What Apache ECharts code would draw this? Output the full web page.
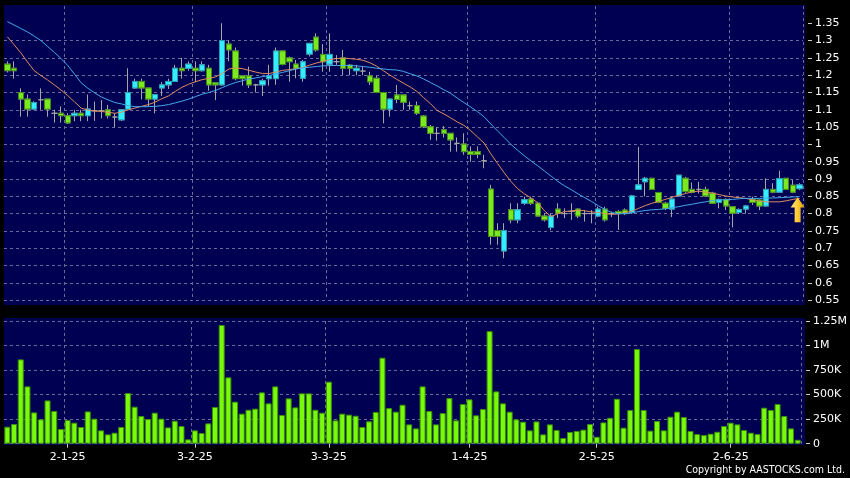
<!DOCTYPE html>
<html><head><meta charset="utf-8">
<script src="https://cdn.jsdelivr.net/npm/echarts@6/dist/echarts.min.js"></script>
<style>html,body{margin:0;padding:0;background:#000;}#c{width:850px;height:478px;}</style>
</head><body><div id="c"></div>
<script>
const dates = [
'17-12-24','18-12-24','19-12-24','20-12-24','23-12-24','24-12-24','27-12-24','30-12-24','31-12-24',
'2-1-25','3-1-25','6-1-25','7-1-25','8-1-25','9-1-25','10-1-25','13-1-25','14-1-25','15-1-25','16-1-25','17-1-25','20-1-25','21-1-25','22-1-25','23-1-25','24-1-25','27-1-25','28-1-25',
'3-2-25','4-2-25','5-2-25','6-2-25','7-2-25','10-2-25','11-2-25','12-2-25','13-2-25','14-2-25','17-2-25','18-2-25','19-2-25','20-2-25','21-2-25','24-2-25','25-2-25','26-2-25','27-2-25','28-2-25',
'3-3-25','4-3-25','5-3-25','6-3-25','7-3-25','10-3-25','11-3-25','12-3-25','13-3-25','14-3-25','17-3-25','18-3-25','19-3-25','20-3-25','21-3-25','24-3-25','25-3-25','26-3-25','27-3-25','28-3-25','31-3-25',
'1-4-25','2-4-25','3-4-25','7-4-25','8-4-25','9-4-25','10-4-25','11-4-25','14-4-25','15-4-25','16-4-25','17-4-25','22-4-25','23-4-25','24-4-25','25-4-25','28-4-25','29-4-25','30-4-25',
'2-5-25','6-5-25','7-5-25','8-5-25','9-5-25','12-5-25','13-5-25','14-5-25','15-5-25','16-5-25','19-5-25','20-5-25','21-5-25','22-5-25','23-5-25','26-5-25','27-5-25','28-5-25','29-5-25','30-5-25',
'2-6-25','3-6-25','4-6-25','5-6-25','6-6-25','9-6-25','10-6-25','11-6-25','12-6-25','13-6-25','16-6-25'
];
const tickLabels = ['2-1-25','3-2-25','3-3-25','1-4-25','2-5-25','2-6-25'];
const priceTicks = [0.55,0.6,0.65,0.7,0.75,0.8,0.85,0.9,0.95,1,1.05,1.1,1.15,1.2,1.25,1.3,1.35];

const opens = [
1.232,1.220,1.150,1.131,1.102,1.129,1.131,1.090,1.090,1.083,
1.083,1.090,1.083,1.097,1.097,1.100,1.079,1.071,1.102,1.163,
1.182,1.163,1.131,1.163,1.172,1.182,1.220,1.220,1.220,1.213,
1.220,1.178,1.172,1.290,1.270,1.198,1.198,1.172,1.172,1.190,
1.190,1.270,1.250,1.232,1.191,1.261,1.310,1.260,1.232,1.239,
1.250,1.229,1.213,1.212,1.198,1.191,1.150,1.102,1.143,1.143,
1.112,1.112,1.082,1.051,1.032,1.042,1.032,1.003,1.001,0.979,
0.979,0.953,0.871,0.751,0.692,0.811,0.782,0.830,0.842,0.830,
0.793,0.760,0.813,0.800,0.806,0.813,0.800,0.800,0.793,0.813,
0.800,0.806,0.810,0.803,0.870,0.892,0.902,0.861,0.830,0.813,
0.851,0.902,0.870,0.870,0.870,0.859,0.832,0.841,0.820,0.803,
0.813,0.841,0.839,0.822,0.870,0.862,0.902,0.882,0.872];
const closes = [
1.213,1.213,1.131,1.102,1.121,1.129,1.102,1.090,1.083,1.062,
1.090,1.083,1.102,1.097,1.097,1.083,1.079,1.100,1.150,1.182,
1.163,1.131,1.144,1.172,1.182,1.220,1.213,1.232,1.213,1.230,
1.172,1.172,1.300,1.273,1.190,1.190,1.172,1.172,1.184,1.198,
1.270,1.231,1.239,1.220,1.239,1.292,1.273,1.239,1.260,1.239,
1.220,1.220,1.220,1.212,1.181,1.150,1.102,1.131,1.130,1.122,
1.112,1.090,1.051,1.032,1.032,1.032,1.013,1.003,0.979,0.971,
0.971,0.953,0.734,0.734,0.751,0.782,0.811,0.840,0.830,0.793,
0.782,0.793,0.801,0.800,0.806,0.793,0.800,0.800,0.813,0.782,
0.800,0.800,0.800,0.851,0.883,0.902,0.870,0.832,0.815,0.842,
0.911,0.864,0.861,0.870,0.851,0.830,0.841,0.822,0.801,0.812,
0.822,0.832,0.822,0.870,0.862,0.901,0.870,0.862,0.883];
const lows = [
1.208,1.190,1.080,1.080,1.100,1.100,1.080,1.063,1.063,1.060,
1.067,1.067,1.067,1.068,1.075,1.075,1.050,1.068,1.100,1.160,
1.130,1.110,1.090,1.140,1.160,1.180,1.190,1.213,1.180,1.210,
1.155,1.128,1.170,1.240,1.185,1.170,1.163,1.150,1.140,1.170,
1.172,1.228,1.181,1.191,1.181,1.254,1.268,1.210,1.210,1.230,
1.200,1.200,1.200,1.200,1.172,1.148,1.061,1.080,1.119,1.100,
1.100,1.085,1.047,1.013,1.011,1.020,0.979,0.979,0.970,0.950,
0.960,0.931,0.710,0.710,0.671,0.772,0.772,0.825,0.825,0.790,
0.777,0.752,0.787,0.787,0.782,0.787,0.777,0.772,0.790,0.777,
0.790,0.753,0.796,0.800,0.868,0.850,0.868,0.830,0.810,0.790,
0.850,0.860,0.859,0.858,0.849,0.828,0.815,0.810,0.760,0.799,
0.800,0.825,0.810,0.820,0.859,0.860,0.868,0.859,0.868];
const highs = [
1.240,1.240,1.162,1.144,1.125,1.162,1.131,1.100,1.110,1.090,
1.100,1.100,1.144,1.124,1.128,1.114,1.090,1.102,1.220,1.190,
1.190,1.163,1.144,1.180,1.190,1.230,1.250,1.240,1.240,1.240,
1.230,1.180,1.350,1.300,1.280,1.200,1.225,1.175,1.190,1.230,
1.280,1.272,1.254,1.244,1.244,1.292,1.321,1.290,1.321,1.258,
1.273,1.232,1.230,1.225,1.210,1.198,1.152,1.133,1.172,1.143,
1.124,1.124,1.085,1.056,1.050,1.053,1.032,1.020,1.032,0.994,
0.994,0.970,0.883,0.772,0.772,0.830,0.830,0.849,0.849,0.834,
0.800,0.800,0.830,0.815,0.830,0.815,0.810,0.810,0.820,0.820,
0.806,0.810,0.815,0.854,0.993,0.906,0.902,0.863,0.834,0.849,
0.912,0.906,0.890,0.892,0.878,0.863,0.844,0.844,0.822,0.815,
0.825,0.849,0.841,0.902,0.888,0.924,0.902,0.897,0.888];
// volume in millions of shares
const volumes = [
0.173,0.201,0.859,0.584,0.319,0.248,0.441,0.333,0.150,0.241,
0.214,0.170,0.329,0.255,0.136,0.095,0.112,0.170,0.516,0.377,
0.282,0.251,0.316,0.255,0.166,0.234,0.180,0.044,0.136,0.109,
0.207,0.374,1.209,0.676,0.428,0.306,0.346,0.357,0.523,0.411,
0.584,0.292,0.462,0.370,0.513,0.513,0.346,0.316,0.632,0.238,
0.306,0.296,0.285,0.170,0.228,0.323,0.876,0.363,0.326,0.397,
0.197,0.156,0.584,0.333,0.197,0.312,0.465,0.238,0.404,0.452,
0.289,0.353,1.147,0.533,0.411,0.326,0.248,0.224,0.136,0.227,
0.095,0.197,0.140,0.058,0.119,0.129,0.143,0.201,0.071,0.217,
0.264,0.458,0.163,0.343,0.964,0.343,0.133,0.231,0.136,0.275,
0.326,0.272,0.129,0.098,0.088,0.102,0.122,0.180,0.214,0.197,
0.139,0.112,0.098,0.367,0.343,0.404,0.282,0.156,0.040];
const maShort = [
1.311,1.288,1.265,1.238,1.213,1.199,1.186,1.172,1.157,1.141,
1.123,1.105,1.099,1.097,1.095,1.093,1.090,1.093,1.100,1.105,
1.110,1.115,1.122,1.132,1.140,1.153,1.165,1.174,1.181,1.187,
1.191,1.195,1.205,1.218,1.221,1.219,1.214,1.209,1.205,1.205,
1.209,1.214,1.216,1.219,1.222,1.229,1.235,1.240,1.245,1.248,
1.249,1.248,1.246,1.243,1.236,1.226,1.213,1.200,1.188,1.177,
1.166,1.153,1.135,1.118,1.098,1.088,1.077,1.065,1.055,1.040,
1.022,1.004,0.973,0.945,0.918,0.893,0.872,0.857,0.845,0.831,
0.808,0.791,0.800,0.806,0.808,0.810,0.808,0.805,0.803,0.800,
0.798,0.799,0.803,0.807,0.815,0.823,0.830,0.835,0.841,0.847,
0.853,0.858,0.863,0.865,0.862,0.859,0.855,0.851,0.848,0.846,
0.844,0.840,0.836,0.834,0.834,0.834,0.837,0.841,0.844];
const maLong = [
1.355,1.345,1.335,1.325,1.313,1.300,1.283,1.266,1.248,1.228,
1.203,1.178,1.162,1.149,1.137,1.129,1.121,1.117,1.112,1.109,
1.109,1.109,1.110,1.112,1.115,1.120,1.125,1.131,1.138,1.145,
1.150,1.156,1.164,1.172,1.179,1.184,1.189,1.192,1.196,1.199,
1.204,1.208,1.213,1.218,1.221,1.223,1.225,1.227,1.228,1.228,
1.228,1.228,1.227,1.225,1.223,1.220,1.218,1.216,1.215,1.211,
1.204,1.198,1.189,1.179,1.169,1.158,1.148,1.134,1.121,1.108,
1.095,1.080,1.059,1.039,1.020,1.000,0.983,0.967,0.952,0.938,
0.923,0.908,0.893,0.880,0.869,0.857,0.846,0.835,0.823,0.812,
0.803,0.800,0.800,0.802,0.806,0.809,0.811,0.812,0.814,0.817,
0.820,0.824,0.827,0.831,0.834,0.838,0.839,0.840,0.841,0.843,
0.844,0.844,0.844,0.845,0.845,0.846,0.847,0.848,0.849];

const FONT = 'DejaVu Sans';
const PANEL = '#000052';
const GRID_COLOR = '#6a6a98';
const WICK = '#a6a6a6';
const UP = '#38ecff', UP_BORDER = '#1d9fb4';
const DOWN = '#7ce820', DOWN_BORDER = '#3f8c14';

const wickData = opens.map((o, i) => [o, closes[i], lows[i], highs[i]]);
const bodyData = opens.map((o, i) => o === closes[i] ? '-' : [o, closes[i], Math.min(o, closes[i]), Math.max(o, closes[i])]);
const isTick = (idx, val) => tickLabels.indexOf(val) >= 0;
const dashed = { color: GRID_COLOR, type: [3, 3], width: 1 };

const chart = echarts.init(document.getElementById('c'), null, { renderer: 'canvas' });
chart.setOption({
  backgroundColor: '#000',
  animation: false,
  graphic: [
    { type: 'rect', silent: true, z: -100, shape: { x: 4, y: 5, width: 801, height: 300 }, style: { fill: PANEL } },
    { type: 'rect', silent: true, z: -100, shape: { x: 4, y: 318, width: 801, height: 127 }, style: { fill: PANEL } },
    { type: 'text', x: 845, y: 470, scaleX: 0.86, silent: true,
      style: { text: 'Copyright by AASTOCKS.com Ltd.', fill: '#ffffff', font: '11px "DejaVu Sans"', align: 'right', verticalAlign: 'middle' } }
  ],
  grid: [
    { left: 4, width: 799, top: 6, height: 294.1 },
    { left: 4, width: 799, top: 321, height: 122.7 }
  ],
  xAxis: [
    { type: 'category', gridIndex: 0, data: dates, boundaryGap: true,
      axisLine: { show: false }, axisTick: { show: false }, axisLabel: { show: false },
      splitLine: { show: true, interval: isTick, lineStyle: dashed } },
    { type: 'category', gridIndex: 1, data: dates, boundaryGap: true, offset: 2,
      axisLine: { show: false },
      axisTick: { show: true, interval: isTick, alignWithLabel: true, length: 4, lineStyle: { color: '#cccccc' } },
      axisLabel: { interval: isTick, color: '#ffffff', fontSize: 11, fontFamily: FONT, margin: 6 },
      splitLine: { show: true, interval: isTick, lineStyle: dashed } }
  ],
  yAxis: [
    { type: 'value', gridIndex: 0, position: 'right', min: 0.55, max: 1.4, interval: 0.05, offset: 5,
      axisLine: { show: false },
      axisTick: { show: true, length: 4, customValues: priceTicks, lineStyle: { color: '#cccccc' } },
      axisLabel: { customValues: priceTicks, color: '#ffffff', fontSize: 11, fontFamily: FONT, margin: 7,
        formatter: v => String(parseFloat(Number(v).toFixed(2))) },
      splitLine: { show: true, showMaxLine: false, lineStyle: dashed } },
    { type: 'value', gridIndex: 1, position: 'right', min: 0, max: 1.25, interval: 0.25, offset: 5,
      axisLine: { show: false },
      axisTick: { show: true, length: 4, lineStyle: { color: '#cccccc' } },
      axisLabel: { color: '#ffffff', fontSize: 11, fontFamily: FONT, margin: 7,
        formatter: v => v === 0 ? '0' : (v >= 1 ? String(parseFloat(v.toFixed(2))) + 'M' : Math.round(v * 1000) + 'K') },
      splitLine: { show: true, lineStyle: dashed } }
  ],
  series: [
    { name: 'wick', type: 'candlestick', xAxisIndex: 0, yAxisIndex: 0, data: wickData, barWidth: 6, z: 2,
      itemStyle: { color: WICK, color0: WICK, borderColor: WICK, borderColor0: WICK, borderColorDoji: WICK, borderWidth: 1 } },
    { name: 'body', type: 'candlestick', xAxisIndex: 0, yAxisIndex: 0, data: bodyData, barWidth: 6, z: 3,
      itemStyle: { color: UP, color0: DOWN, borderColor: UP_BORDER, borderColor0: DOWN_BORDER, borderWidth: 1 } },
    { name: 'MA short', type: 'line', xAxisIndex: 0, yAxisIndex: 0, data: maShort, showSymbol: false, z: 4,
      lineStyle: { color: '#e08d5e', width: 1 } },
    { name: 'MA long', type: 'line', xAxisIndex: 0, yAxisIndex: 0, data: maLong, showSymbol: false, z: 4,
      lineStyle: { color: '#45a8ea', width: 1 },
      markPoint: {
        silent: true,
        data: [{ coord: [dates[dates.length - 1], maLong[maLong.length - 1]] }],
        symbol: 'path://M7,0 L14,10 L10,10 L10,24 L4,24 L4,10 L0,10 Z',
        symbolSize: [14, 25],
        symbolOffset: [-2, '52%'],
        label: { show: false },
        itemStyle: { color: new echarts.graphic.LinearGradient(0, 0, 1, 0, [
          { offset: 0, color: '#ffe680' }, { offset: 0.5, color: '#ffcc33' }, { offset: 1, color: '#d99a00' }]) }
      } },
    { name: 'Volume', type: 'bar', xAxisIndex: 1, yAxisIndex: 1, data: volumes, barWidth: 6,
      itemStyle: { color: '#78fa0a', borderColor: '#3b8f08', borderWidth: 1 } }
  ]
});
</script>
</body></html>
